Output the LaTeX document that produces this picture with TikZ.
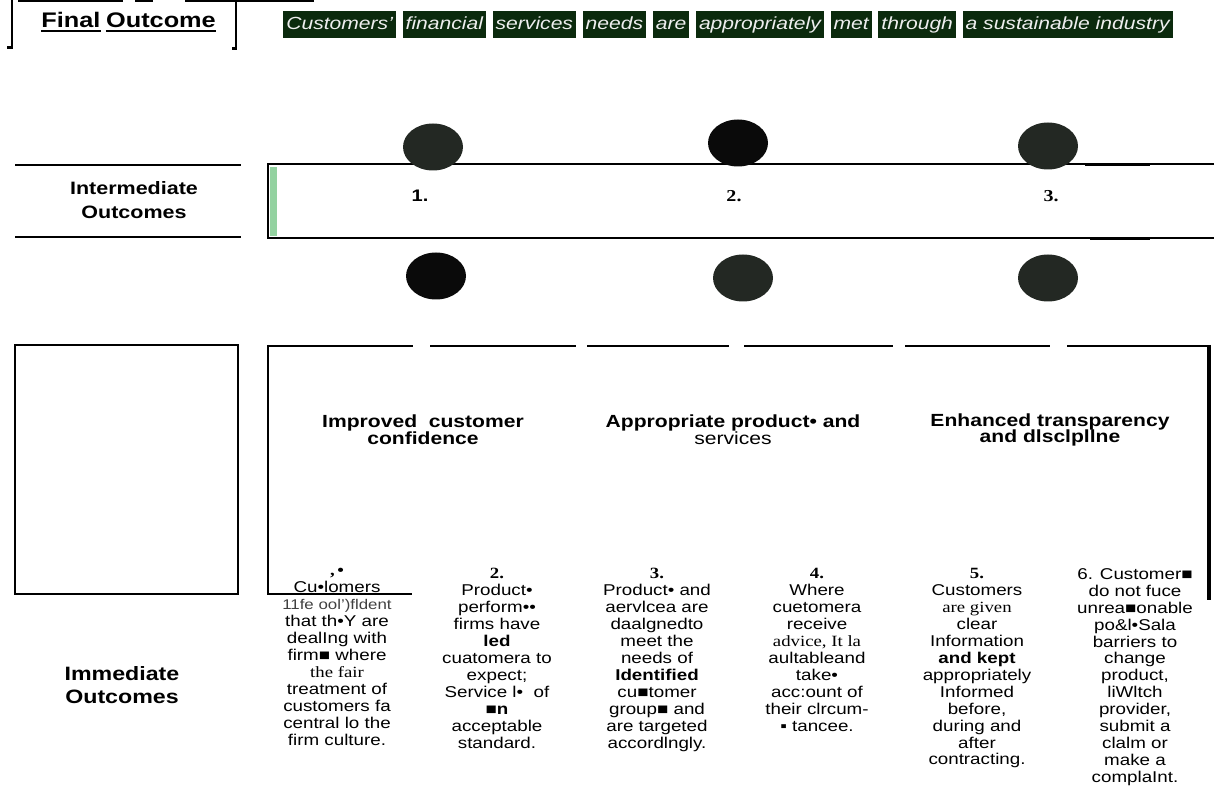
\documentclass[tikz,border=0pt]{standalone}
\usepackage{fontspec}
\setmainfont{Liberation Sans}[FakeStretch=1.2]
\newfontfamily\serifface{Liberation Serif}[FakeStretch=1.2]
\usetikzlibrary{positioning}

\definecolor{wordbg}{HTML}{0B2A0D}
\definecolor{wordfg}{HTML}{EEEEEE}
\definecolor{blobgrey}{HTML}{232823}
\definecolor{blobblack}{HTML}{0A0A0A}
\definecolor{stripgreen}{HTML}{93D2A0}

\tikzset{
  rule/.style={line width=1.7pt},
  hairline/.style={line width=1.1pt},
  wordbox/.style={fill=wordbg, text=wordfg, inner xsep=1.7pt, inner ysep=0pt,
    minimum height=5.4mm, text height=8pt, text depth=2.6pt,
    font=\itshape\fontsize{10}{12}\selectfont},
  sectlabel/.style={align=center, font=\bfseries\fontsize{11}{13.3}\selectfont},
  colhead/.style={align=center, font=\fontsize{10}{9.6}\selectfont},
  outcome/.style={align=center, anchor=north, inner sep=0pt,
    font=\fontsize{8.9}{9.64}\selectfont, execute at begin node=\strut},
  numlabel/.style={font=\bfseries\fontsize{9.5}{11}\selectfont}
}

\begin{document}
\begin{tikzpicture}[x=0.2mm, y=-0.2mm]
\useasboundingbox (0,0) rectangle (1217,807);

% final outcome
\draw[rule] (7,48) -- (12,48) -- (12,0);
\draw[rule] (232,49) -- (236,49) -- (236,0);
\foreach \a/\b in {18/123, 135/153, 185/314}
  \draw[rule] (\a,1) -- (\b,1);
\node[inner sep=0pt, anchor=base west, font=\bfseries\fontsize{12}{13}\selectfont] (final) at (41,28) {Final};
\node[inner sep=0pt, base right=1mm of final, font=\bfseries\fontsize{12}{13}\selectfont] (outcome) {Outcome};
\draw[line width=1.3pt] ([yshift=-1.6pt]final.base west) -- ([yshift=-1.6pt]final.base east);
\draw[line width=1.3pt] ([yshift=-1.6pt]outcome.base west) -- ([yshift=-1.6pt]outcome.base east);

\node[wordbox, anchor=west] (w1) at (283,25) {Customers'};
\foreach \w [count=\i from 2, remember=\i as \j (initially 1)] in
    {financial, services, needs, are, appropriately, met, through, a sustainable industry}
  \node[wordbox, right=1.2mm of w\j] (w\i) {\w};

% intermediate outcomes
\draw[rule] (15,165) -- (241,165);
\draw[rule] (15,237) -- (241,237);
\node[sectlabel, font=\bfseries\fontsize{10.2}{13.3}\selectfont] (intlabel) at (134,200) {Intermediate\\Outcomes};
\fill[stripgreen] (270,167) rectangle (277,236);
\draw[hairline] (1214,164) -- (268,164) -- (268,238) -- (1214,238);
\draw[rule] (323,164) -- (395,164);
\draw[rule] (323,238) -- (400,238);
\draw[rule] (1085,165) -- (1150,165);
\draw[rule] (1090,239) -- (1150,239);

\fill[blobgrey] (433,147) ellipse (6mm and 4.7mm);
\fill[blobblack] (738,143) ellipse (6mm and 4.7mm);
\fill[blobgrey] (1048,146) ellipse (6mm and 4.7mm);
\fill[blobblack] (436,276) ellipse (6mm and 4.7mm);
\fill[blobgrey] (743,278) ellipse (6mm and 4.7mm);
\fill[blobgrey] (1048,278) ellipse (6mm and 4.7mm);

\node[numlabel] (num1) at (420,196) {1.};
\node[numlabel, font=\serifface\bfseries\fontsize{9.5}{11}\selectfont] (num2) at (734,196) {2.};
\node[numlabel, font=\serifface\bfseries\fontsize{9.5}{11}\selectfont] (num3) at (1051,196) {3.};

% immediate outcomes
\draw[rule] (15,345) rectangle (238,594);
\draw[rule] (268,345) -- (268,594) -- (412,594);
\foreach \a/\b in {268/413, 430/576, 587/729, 744/893, 905/1050, 1067/1209}
  \draw[rule] (\a,346) -- (\b,346);
\draw[line width=2.2pt] (1209,345) -- (1209,600);
\node[sectlabel] (immlabel) at (122,685) {Immediate\\Outcomes};

\node[colhead, font=\bfseries\fontsize{10}{9.6}\selectfont] (head1) at (423,430) {Improved\ \ customer\\confidence};
\node[colhead] (head2) at (733,430) {\textbf{Appropriate product• and}\\services};
\node[colhead, font=\bfseries\fontsize{10}{9.6}\selectfont] (head3) at (1050,430) {Enhanced transparency\\and dlsclpllne};

\node[outcome] (out1) at (337,568) {{\serifface\bfseries ,\,•}\\Cu•lomers\\{\color{black!75}\fontsize{8}{9.64}\selectfont 11fe ool')fldent}\\that th•Y are\\dealIng with\\firm■ where\\{\serifface the fair}\\treatment of\\customers fa\\central lo the\\firm culture.};
\node[outcome] (out2) at (497,568) {{\serifface\bfseries 2.}\\Product•\\perform••\\firms have\\\textbf{led}\\cuatomera to\\expect;\\Service l• \ of\\\textbf{■n}\\acceptable\\standard.};
\node[outcome] (out3) at (657,568) {{\serifface\bfseries 3.}\\Product• and\\aervlcea are\\daalgnedto\\meet the\\needs of\\\textbf{Identified}\\cu■tomer\\group■ and\\are targeted\\accordlngly.};
\node[outcome] (out4) at (817,568) {{\serifface\bfseries 4.}\\Where\\cuetomera\\receive\\{\serifface advice, It la}\\aultableand\\take•\\acc:ount of\\their clrcum-\\▪ tancee.};
\node[outcome] (out5) at (977,568) {{\serifface\bfseries 5.}\\Customers\\{\serifface are given}\\clear\\Information\\\textbf{and kept}\\appropriately\\Informed\\before,\\during and\\after\\contracting.};
\node[outcome] (out6) at (1135,568) {6. Customer■\\do not fuce\\unrea■onable\\po\&l•Sala\\barriers to\\change\\product,\\liWltch\\provider,\\submit a\\clalm or\\make a\\complaInt.};
\end{tikzpicture}
\end{document}
